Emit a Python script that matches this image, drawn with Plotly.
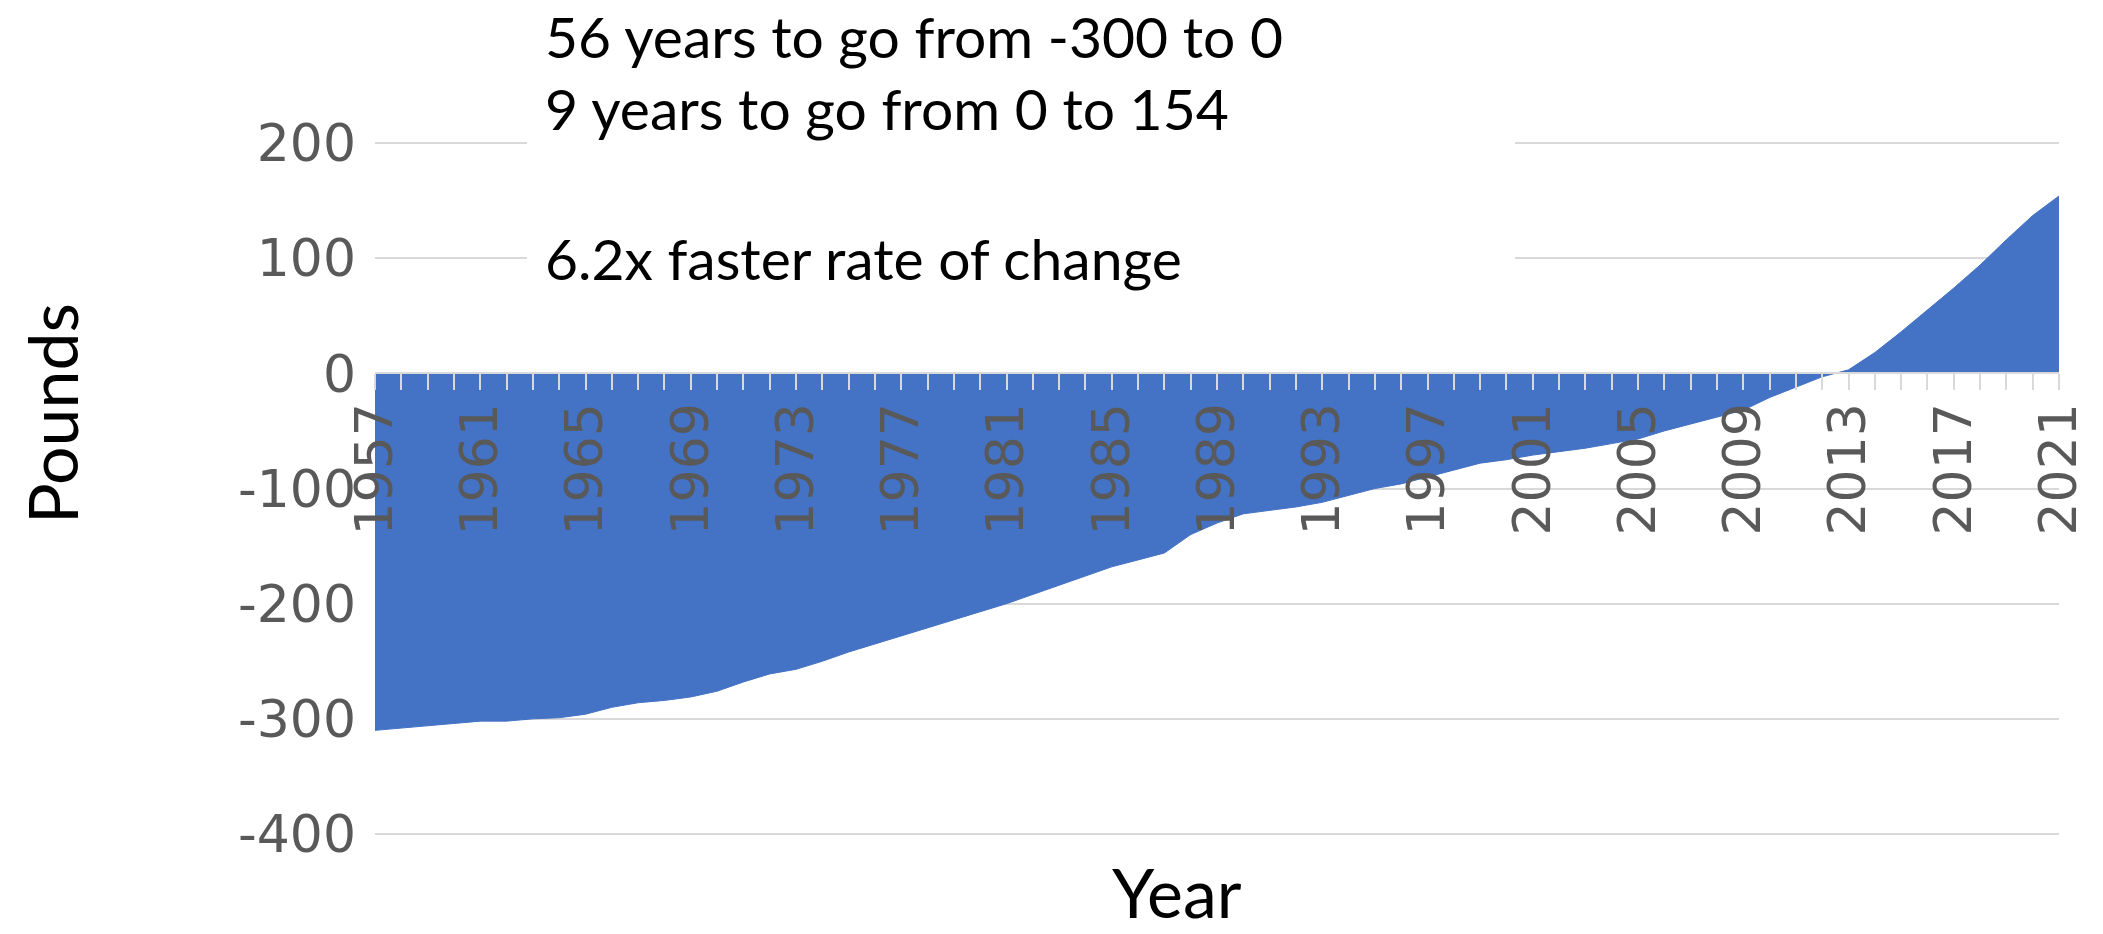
import plotly.graph_objects as go

years = list(range(1957, 2022))
pounds = [
    -310, -308, -306, -304, -302, -302, -300, -299, -296, -290,   # 1957-1966
    -286, -284, -281, -276, -268, -261, -257, -250, -242, -235,   # 1967-1976
    -228, -221, -214, -207, -200, -192, -184, -176, -168, -162,   # 1977-1986
    -156, -140, -130, -122, -119, -116, -112, -106, -100, -96,    # 1987-1996
    -90, -84, -78, -75, -71, -68, -65, -61, -57, -50,             # 1997-2006
    -44, -38, -32, -21, -12, -3, 3, 18, 36, 55,                   # 2007-2016
    74, 94, 116, 137, 154,                                        # 2017-2021
]
x_tick_years = list(range(1957, 2022, 4))
y_tick_vals = [200, 100, 0, -100, -200, -300, -400]
y_tick_text = ["200", "100", "0", "-100", "-200", "-300", "-400"]
notes = [
    "56 years to go from -300 to 0",
    "9 years to go from 0 to 154",
    "6.2x faster rate of change",
]

W, H = 2103, 934
L, R, T, B = 375, 44, 137, 94
# padded range so the 200 and -400 gridlines are drawn inside the plot area
ymin, ymax = -405.2, 205.2

fig = go.Figure()
fig.add_trace(go.Scatter(
    x=years, y=pounds, mode="lines", fill="tozeroy",
    fillcolor="#4472C4", line=dict(color="#4472C4", width=1),
    hoverinfo="skip", showlegend=False,
))

def px_to_paper_y(py):
    return (H - B - py) / (H - B - T)

def px_to_paper_x(px):
    return (px - L) / (W - L - R)

fig.update_layout(
    width=W, height=H,
    margin=dict(l=L, r=R, t=T, b=B),
    paper_bgcolor="white", plot_bgcolor="white",
    showlegend=False,
    xaxis=dict(
        range=[years[0], years[-1]],
        anchor="free",
        position=(0 - ymin) / (ymax - ymin),
        tickvals=x_tick_years,
        ticktext=[str(v) for v in x_tick_years],
        tickangle=-90,
        tickfont=dict(family="DejaVu Sans", size=52, color="#595959"),
        ticks="outside", ticklen=16, tickwidth=2, tickcolor="#d9d9d9",
        minor=dict(dtick=1, tick0=1957, ticks="outside", ticklen=16,
                   tickwidth=2, tickcolor="#d9d9d9", showgrid=False),
        showgrid=False, zeroline=False,
        showline=True, linecolor="#d9d9d9", linewidth=2,
        ticklabelstandoff=-8,
    ),
    yaxis=dict(
        range=[ymin, ymax],
        tickvals=y_tick_vals, ticktext=y_tick_text,
        tickfont=dict(family="DejaVu Sans", size=52, color="#595959"),
        showgrid=True, gridcolor="#d9d9d9", gridwidth=2,
        zeroline=False, showline=False, ticks="",
        ticklabelstandoff=18,
    ),
)

# white text box behind the notes (covers gridlines like the original text box)
fig.add_shape(type="rect", xref="paper", yref="paper",
              x0=px_to_paper_x(527), x1=px_to_paper_x(1515),
              y0=px_to_paper_y(322), y1=px_to_paper_y(0),
              fillcolor="white", line=dict(width=0), layer="above")

# first line anchored at its top so it stays inside the page
fig.add_annotation(text=notes[0], xref="paper", yref="paper",
                   x=px_to_paper_x(543), y=px_to_paper_y(0),
                   xanchor="left", yanchor="top", showarrow=False,
                   font=dict(family="Lato", size=57, color="black"))
for txt, py in zip(notes[1:], [108, 258]):
    fig.add_annotation(text=txt, xref="paper", yref="paper",
                       x=px_to_paper_x(543), y=px_to_paper_y(py),
                       xanchor="left", yanchor="middle", showarrow=False,
                       font=dict(family="Lato", size=57, color="black"))

fig.add_annotation(text="Year", xref="paper", yref="paper",
                   x=px_to_paper_x(1177), y=px_to_paper_y(934),
                   xanchor="center", yanchor="bottom", showarrow=False,
                   font=dict(family="Lato", size=68, color="black"))
fig.add_annotation(text="Pounds", xref="paper", yref="paper",
                   x=px_to_paper_x(51), y=px_to_paper_y(414),
                   xanchor="center", yanchor="middle", showarrow=False,
                   textangle=-90,
                   font=dict(family="Lato", size=68, color="black"))

fig.write_html("out.html")
